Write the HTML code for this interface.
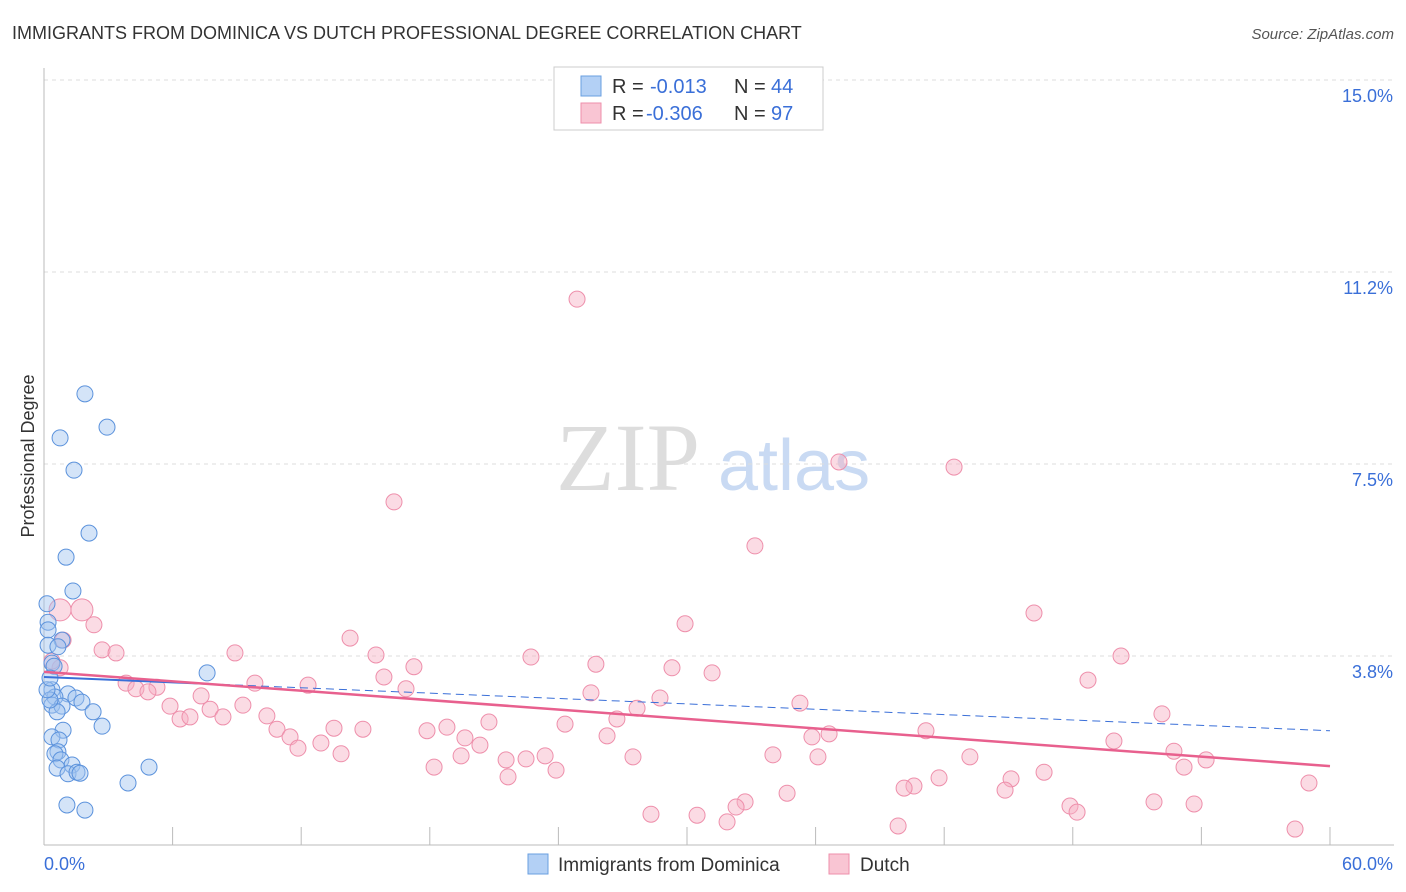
<!DOCTYPE html>
<html><head><meta charset="utf-8"><style>
body{margin:0;background:#fff;font-family:"Liberation Sans",sans-serif;}
svg{display:block}
</style></head><body>
<svg id="chart" width="1406" height="892" xmlns="http://www.w3.org/2000/svg">
<text x="12" y="39" font-size="18" fill="#333">IMMIGRANTS FROM DOMINICA VS DUTCH PROFESSIONAL DEGREE CORRELATION CHART</text>
<text x="1394" y="39" font-size="15" fill="#555" text-anchor="end" font-style="italic">Source: ZipAtlas.com</text>
<text x="556" y="490" font-size="96" fill="#ddd" font-family="Liberation Serif,serif">ZIP</text>
<text x="718" y="490" font-size="72" fill="#c9daf3">atlas</text>
<text transform="translate(34,456) rotate(-90)" font-size="18" fill="#333" text-anchor="middle">Professional Degree</text>
<g id="grid"></g><g id="marks"></g>
<g>
<rect x="554" y="67" width="269" height="63" fill="#fff" stroke="#ccc"/>
<rect x="581" y="76" width="20" height="20" fill="#b3d0f5" stroke="#6a9fe0"/>
<rect x="581" y="103" width="20" height="20" fill="#f9c5d3" stroke="#ee8fab"/>
<text x="612" y="93" font-size="20" fill="#333">R = </text><text x="650" y="93" font-size="20" fill="#3a6fd8">-0.013</text>
<text x="734" y="93" font-size="20" fill="#333">N = </text><text x="771" y="93" font-size="20" fill="#3a6fd8">44</text>
<text x="612" y="120" font-size="20" fill="#333">R = </text><text x="646" y="120" font-size="20" fill="#3a6fd8">-0.306</text>
<text x="734" y="120" font-size="20" fill="#333">N = </text><text x="771" y="120" font-size="20" fill="#3a6fd8">97</text>
</g>
<g>
<rect x="528" y="854" width="20" height="20" fill="#b3d0f5" stroke="#6a9fe0"/>
<text x="558" y="871" font-size="19" fill="#333">Immigrants from Dominica</text>
<rect x="829" y="854" width="20" height="20" fill="#f9c5d3" stroke="#ee8fab"/>
<text x="860" y="871" font-size="19" fill="#333">Dutch</text>
</g>
</svg>
<script>
const yTicks=[3.75,7.5,11.25,15];
const yTickLabels=["3.8%","7.5%","11.2%","15.0%"];
const xTickVals=[0,6,12,18,24,30,36,42,48,54,60];
const bluePx=[[85,394],[107,427],[60,438],[74,470],[89,533],[66,557],[73,591],[47,604],[48,622],[48,630],[62,640],[48,645],[58,647],[52,663],[54,666],[207,673],[52,690],[68,694],[55,697],[76,698],[82,702],[52,705],[62,706],[57,712],[93,712],[102,726],[63,730],[52,737],[59,740],[58,752],[55,754],[61,760],[72,765],[57,768],[149,767],[68,774],[77,772],[80,773],[128,783],[67,805],[85,810],[50,700],[47,690],[50,678]];
const pinkPx=[[577,299],[839,462],[954,467],[394,502],[755,546],[1034,613],[94,625],[685,624],[350,638],[63,640],[102,650],[116,653],[235,653],[376,655],[531,657],[1121,656],[596,664],[414,667],[672,668],[712,673],[384,677],[1088,680],[126,683],[157,687],[255,683],[308,685],[136,689],[148,692],[406,689],[591,693],[201,696],[660,698],[800,703],[170,706],[210,709],[243,705],[637,708],[1162,714],[180,719],[190,717],[223,717],[267,716],[489,722],[617,719],[565,724],[447,727],[334,728],[363,729],[277,729],[290,737],[427,731],[926,731],[607,736],[829,734],[812,737],[1114,741],[465,738],[321,743],[480,745],[298,748],[1174,751],[341,754],[773,755],[970,757],[633,757],[461,756],[545,756],[506,760],[1206,760],[526,759],[818,757],[434,767],[556,770],[1184,767],[1044,772],[939,778],[508,777],[1011,779],[914,786],[904,788],[1309,783],[787,793],[1005,790],[745,802],[736,807],[1154,802],[1194,804],[1070,806],[1077,812],[651,814],[697,815],[727,822],[898,826],[1295,829],[60,668],[52,661],[60,610],[82,610]];
const blueX=bluePx.map(p=>+((p[0]-44)/21.433).toFixed(2)), blueY=bluePx.map(p=>+((848-p[1])/51.2).toFixed(2));
const pinkX=pinkPx.map(p=>+((p[0]-44)/21.433).toFixed(2)), pinkY=pinkPx.map(p=>+((848-p[1])/51.2).toFixed(2));
const blueTrend=[3.34,2.29], pinkTrend=[3.44,1.60];
const X=v=>44+v*21.433, Y=v=>848-v*51.2;
const NS="http://www.w3.org/2000/svg";
function mk(t,a,p){const e=document.createElementNS(NS,t);for(const k in a)e.setAttribute(k,a[k]);p.appendChild(e);return e;}
const g=document.getElementById('grid'), m=document.getElementById('marks');
yTicks.forEach((v,i)=>{
 const l=mk('line',{x1:44,x2:1394,y1:Y(v),y2:Y(v),stroke:'#ddd','stroke-dasharray':'4,4'},g);
 
 
 const t=mk('text',{x:1393,y:Y(v)+22,'font-size':18,fill:'#3a6fd8','text-anchor':'end'},g);t.textContent=yTickLabels[i];
 
 
});
mk('line',{x1:44,x2:44,y1:68,y2:845,stroke:'#bbb'},g);
mk('line',{x1:44,x2:1394,y1:845,y2:845,stroke:'#bbb'},g);
xTickVals.forEach(v=>{const l=mk('line',{x1:X(v),x2:X(v),y1:827,y2:845,stroke:'#bbb'},g);
 
 });
let t=mk('text',{x:44,y:870,'font-size':18,fill:'#3a6fd8'},g);t.textContent='0.0%';


t=mk('text',{x:1393,y:870,'font-size':18,fill:'#3a6fd8','text-anchor':'end'},g);t.textContent='60.0%';


pinkX.forEach((x,i)=>{const big=i>=pinkX.length-2;const c=mk('circle',{cx:X(x),cy:Y(pinkY[i]),r:big?11:8,fill:'rgba(247,175,196,0.45)',stroke:'#ee8fab','stroke-width':1},m);
 
 });
blueX.forEach((x,i)=>{const c=mk('circle',{cx:X(x),cy:Y(blueY[i]),r:8,fill:'rgba(160,195,240,0.45)',stroke:'#5b92dc','stroke-width':1},m);
 
 });
const bMid=blueTrend[0]+(blueTrend[1]-blueTrend[0])*(7.7/60);
let l=mk('line',{x1:X(0),y1:Y(blueTrend[0]),x2:X(7.7),y2:Y(bMid),stroke:'#3a6fd8','stroke-width':2},m);


l=mk('line',{x1:X(7.7),y1:Y(bMid),x2:X(60),y2:Y(blueTrend[1]),stroke:'#3a6fd8','stroke-width':1,'stroke-dasharray':'8,5'},m);


l=mk('line',{x1:X(0),y1:Y(pinkTrend[0]),x2:X(60),y2:Y(pinkTrend[1]),stroke:'#e8608e','stroke-width':2.5},m);


</script>
</body></html>
